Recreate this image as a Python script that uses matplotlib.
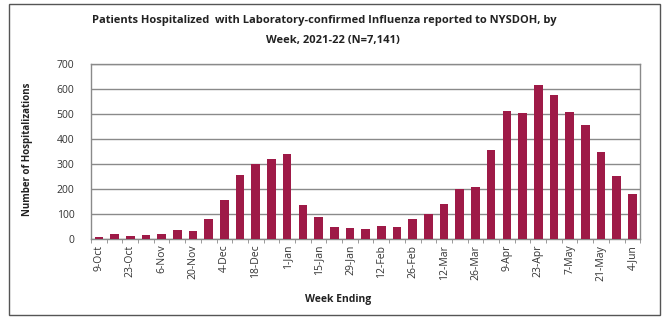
import matplotlib.pyplot as plt
from matplotlib.patches import Rectangle
import numpy as np

weeks = ["9-Oct", "16-Oct", "23-Oct", "30-Oct", "6-Nov", "13-Nov", "20-Nov", "27-Nov",
         "4-Dec", "11-Dec", "18-Dec", "25-Dec", "1-Jan", "8-Jan", "15-Jan", "22-Jan",
         "29-Jan", "5-Feb", "12-Feb", "19-Feb", "26-Feb", "5-Mar", "12-Mar", "19-Mar",
         "26-Mar", "2-Apr", "9-Apr", "16-Apr", "23-Apr", "30-Apr", "7-May", "14-May",
         "21-May", "28-May", "4-Jun"]
hosp = [7, 19, 12, 16, 19, 36, 31, 79, 156, 255, 300, 319, 340, 136, 88, 48,
        45, 42, 52, 47, 81, 101, 140, 199, 207, 355, 513, 505, 616, 577, 509, 456,
        347, 252, 180]
y_ticks = [0, 100, 200, 300, 400, 500, 600, 700]

plt.rcParams['font.family'] = ['Open Sans', 'DejaVu Sans']

fig = plt.figure(figsize=(6.69, 3.18), dpi=100)
ax = fig.add_axes([0.136, 0.248, 0.821, 0.551])

x = np.arange(len(weeks))
ax.bar(x, hosp, width=0.55, color="#9E1A47", zorder=3)

ax.set_xlim(-0.5, len(weeks) - 0.5)
ax.set_ylim(0, 700)
ax.set_yticks(y_ticks)
ax.set_yticklabels([str(v) for v in y_ticks], fontsize=7.5, color="#333333")
ax.yaxis.grid(True, color="#8a8a8a", linewidth=1, zorder=0)
ax.tick_params(axis="y", length=0, pad=12)

ax.set_xticks(x[::2])
ax.set_xticklabels(weeks[::2], rotation=90, fontsize=7.5, color="#333333")
ax.tick_params(axis="x", length=0, pad=4)
ax.set_xticks(np.arange(-0.5, len(weeks), 1), minor=True)
ax.tick_params(axis="x", which="minor", length=3, color="#8a8a8a", direction="out")

for s in ax.spines.values():
    s.set_color("#8a8a8a")
    s.set_linewidth(1)

fig.text(0.485, 0.935, "Patients Hospitalized  with Laboratory-confirmed Influenza reported to NYSDOH, by",
         ha="center", va="center", fontsize=8, fontweight="bold", color="#222222")
fig.text(0.497, 0.872, "Week, 2021-22 (N=7,141)",
         ha="center", va="center", fontsize=8, fontweight="bold", color="#222222")
fig.text(0.505, 0.057, "Week Ending", ha="center", va="center",
         fontsize=7.5, fontweight="bold", color="#222222")
fig.text(0.041, 0.53, "Number of Hospitalizations", ha="center", va="center",
         rotation=90, fontsize=7, fontweight="bold", color="#222222")

fig.patches.append(Rectangle((0.0135, 0.009), 0.973, 0.978, transform=fig.transFigure,
                             fill=False, edgecolor="#555555", linewidth=1))

fig.savefig("out.png", dpi=100)
